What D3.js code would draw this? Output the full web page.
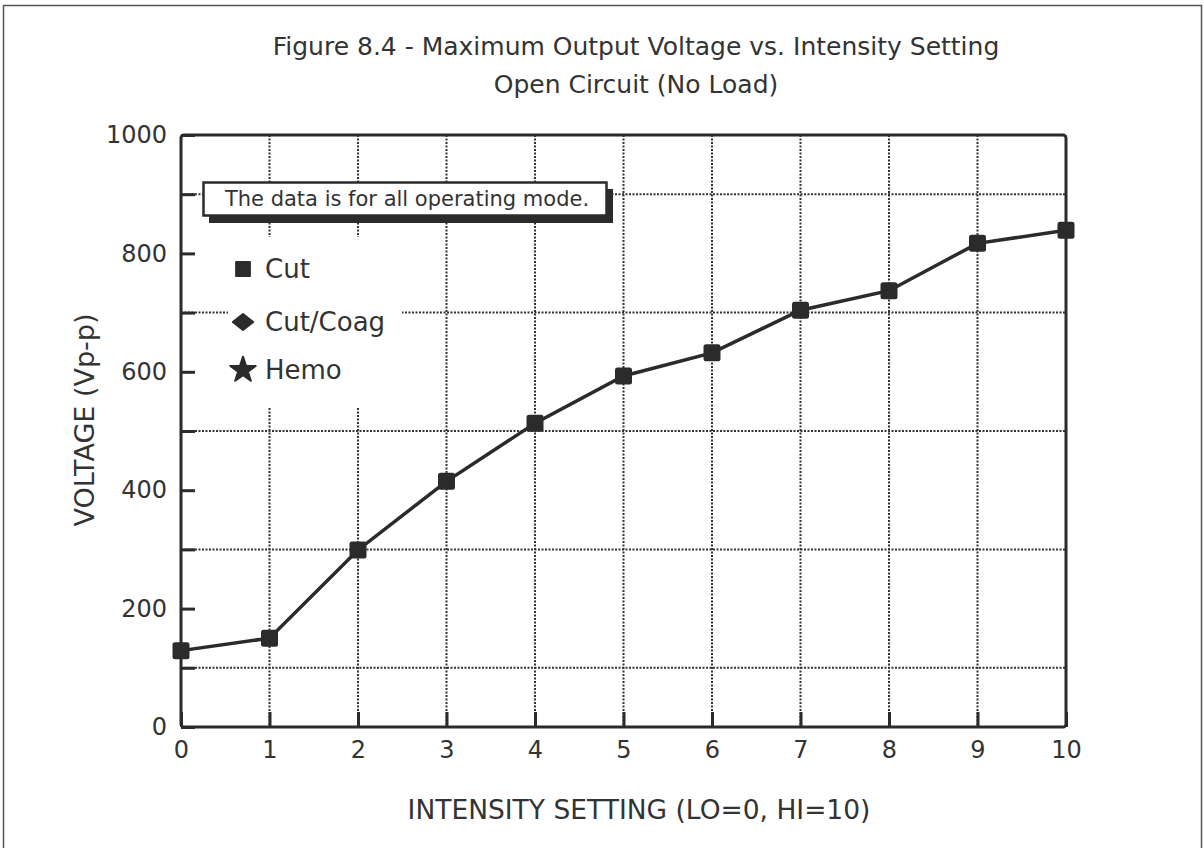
<!DOCTYPE html>
<html>
<head>
<meta charset="utf-8">
<script src="https://cdn.jsdelivr.net/npm/d3@7"></script>
<style>
  body { margin: 0; background: #fff; }
  text { font-family: "DejaVu Sans", sans-serif; fill: #333; }
</style>
</head>
<body>
<div id="chart-area"></div>
<script>
// values
var settings = [0, 1, 2, 3, 4, 5, 6, 7, 8, 9, 10];
var cutVoltage = [129, 150, 299, 415, 513, 593, 632, 704, 737, 817, 839];
var yTicks = [0, 100, 200, 300, 400, 500, 600, 700, 800, 900, 1000];
var yGrid = [100, 300, 500, 700, 900];
var xGrid = [1, 2, 3, 4, 5, 6, 7, 8, 9];
var legendNames = ["Cut", "Cut/Coag", "Hemo"];

var ink = "#2b2b2b";

// flat diamond like the old legend glyph
var wideDiamond = {
    draw: function(context, size){
        var w = Math.sqrt(size) * 0.72, h = w * 0.78;
        context.moveTo(-w, 0);
        context.lineTo(0, -h);
        context.lineTo(w, 0);
        context.lineTo(0, h);
        context.closePath();
    }
};
var legendShapes = [d3.symbolSquare, wideDiamond, d3.symbolStar];
var legendSizes = [190, 200, 200];

var svg = d3.select("#chart-area").append("svg")
    .attr("width", 1204)
    .attr("height", 848);

// outer frame of the page
svg.append("rect")
    .attr("x", 3.5).attr("y", 5.5)
    .attr("width", 1198).attr("height", 900)
    .attr("fill", "none")
    .attr("stroke", "#555")
    .attr("stroke-width", 1.5);

var x = d3.scaleLinear().domain([0, 10]).range([181, 1066]);
var y = d3.scaleLinear().domain([0, 1000]).range([727, 135]);

// title
var title = svg.append("text")
    .attr("text-anchor", "middle")
    .style("font-size", "25px");
title.append("tspan").attr("x", 636).attr("y", 55)
    .text("Figure 8.4 - Maximum Output Voltage vs. Intensity Setting");
title.append("tspan").attr("x", 636).attr("y", 93)
    .text("Open Circuit (No Load)");

// dotted grid
svg.append("g").selectAll("line")
    .data(xGrid)
    .enter().append("line")
        .attr("x1", function(d){ return x(d); })
        .attr("x2", function(d){ return x(d); })
        .attr("y1", y(1000))
        .attr("y2", y(0))
        .attr("stroke", "#333")
        .attr("stroke-width", 2)
        .attr("stroke-dasharray", "2,1.5");

svg.append("g").selectAll("line")
    .data(yGrid)
    .enter().append("line")
        .attr("x1", x(0))
        .attr("x2", x(10))
        .attr("y1", function(d){ return y(d); })
        .attr("y2", function(d){ return y(d); })
        .attr("stroke", "#333")
        .attr("stroke-width", 2)
        .attr("stroke-dasharray", "2,1.5");

// note box with drop shadow
svg.append("rect")
    .attr("x", 209).attr("y", 189)
    .attr("width", 404).attr("height", 34)
    .attr("fill", ink);
svg.append("rect")
    .attr("x", 203.5).attr("y", 182.5)
    .attr("width", 403).attr("height", 33)
    .attr("fill", "#fff")
    .attr("stroke", ink)
    .attr("stroke-width", 2.5);
svg.append("text")
    .attr("x", 407).attr("y", 206)
    .attr("text-anchor", "middle")
    .style("font-size", "21px")
    .text("The data is for all operating mode.");

// legend
svg.append("rect")
    .attr("x", 228).attr("y", 237)
    .attr("width", 174).attr("height", 171)
    .attr("fill", "#fff");

var legend = svg.append("g").selectAll("g")
    .data(legendNames)
    .enter().append("g")
        .attr("transform", function(d, i){
            return "translate(243," + [269, 322, 370][i] + ")";
        });
legend.append("path")
    .attr("d", function(d, i){
        return d3.symbol().type(legendShapes[i]).size(legendSizes[i])();
    })
    .attr("fill", ink)
    .attr("stroke", ink)
    .attr("stroke-width", 2)
    .attr("stroke-linejoin", "round");
legend.append("text")
    .attr("x", 22)
    .attr("dy", "0.36em")
    .style("font-size", "26px")
    .text(function(d){ return d; });

// plot frame
svg.append("rect")
    .attr("x", x(0)).attr("y", y(1000))
    .attr("width", x(10) - x(0))
    .attr("height", y(0) - y(1000))
    .attr("rx", 3)
    .attr("fill", "none")
    .attr("stroke", ink)
    .attr("stroke-width", 3);

// axes with inward ticks
var yAxis = d3.axisLeft(y)
    .tickValues(yTicks)
    .tickSize(-14)
    .tickPadding(14)
    .tickFormat(function(d){ return d % 200 === 0 ? d : ""; });
var yg = svg.append("g")
    .attr("transform", "translate(" + x(0) + ",0)")
    .call(yAxis);

var xAxis = d3.axisBottom(x)
    .tickValues(settings)
    .tickSize(-15)
    .tickPadding(14)
    .tickFormat(d3.format("d"));
var xg = svg.append("g")
    .attr("transform", "translate(0," + y(0) + ")")
    .call(xAxis);

[yg, xg].forEach(function(g){
    g.select(".domain").remove();
    g.selectAll(".tick line").attr("stroke", ink).attr("stroke-width", 3);
    g.selectAll(".tick text")
        .style("font-size", "24px")
        .style("font-family", "DejaVu Sans, sans-serif")
        .attr("fill", "#333");
});

// axis titles
svg.append("text")
    .attr("x", 639).attr("y", 819)
    .attr("text-anchor", "middle")
    .style("font-size", "26.5px")
    .text("INTENSITY SETTING (LO=0, HI=10)");

svg.append("text")
    .attr("transform", "translate(94,420) rotate(-90)")
    .attr("text-anchor", "middle")
    .style("font-size", "27px")
    .text("VOLTAGE (Vp-p)");

// Cut series
var line = d3.line()
    .x(function(d, i){ return x(settings[i]); })
    .y(function(d){ return y(d); });

svg.append("path")
    .datum(cutVoltage)
    .attr("d", line)
    .attr("fill", "none")
    .attr("stroke", ink)
    .attr("stroke-width", 3.5);

svg.append("g").selectAll("rect")
    .data(cutVoltage)
    .enter().append("rect")
        .attr("x", function(d, i){ return x(settings[i]) - 8.5; })
        .attr("y", function(d){ return y(d) - 8.5; })
        .attr("width", 17)
        .attr("height", 17)
        .attr("rx", 2.5)
        .attr("fill", ink);
</script>
</body>
</html>
